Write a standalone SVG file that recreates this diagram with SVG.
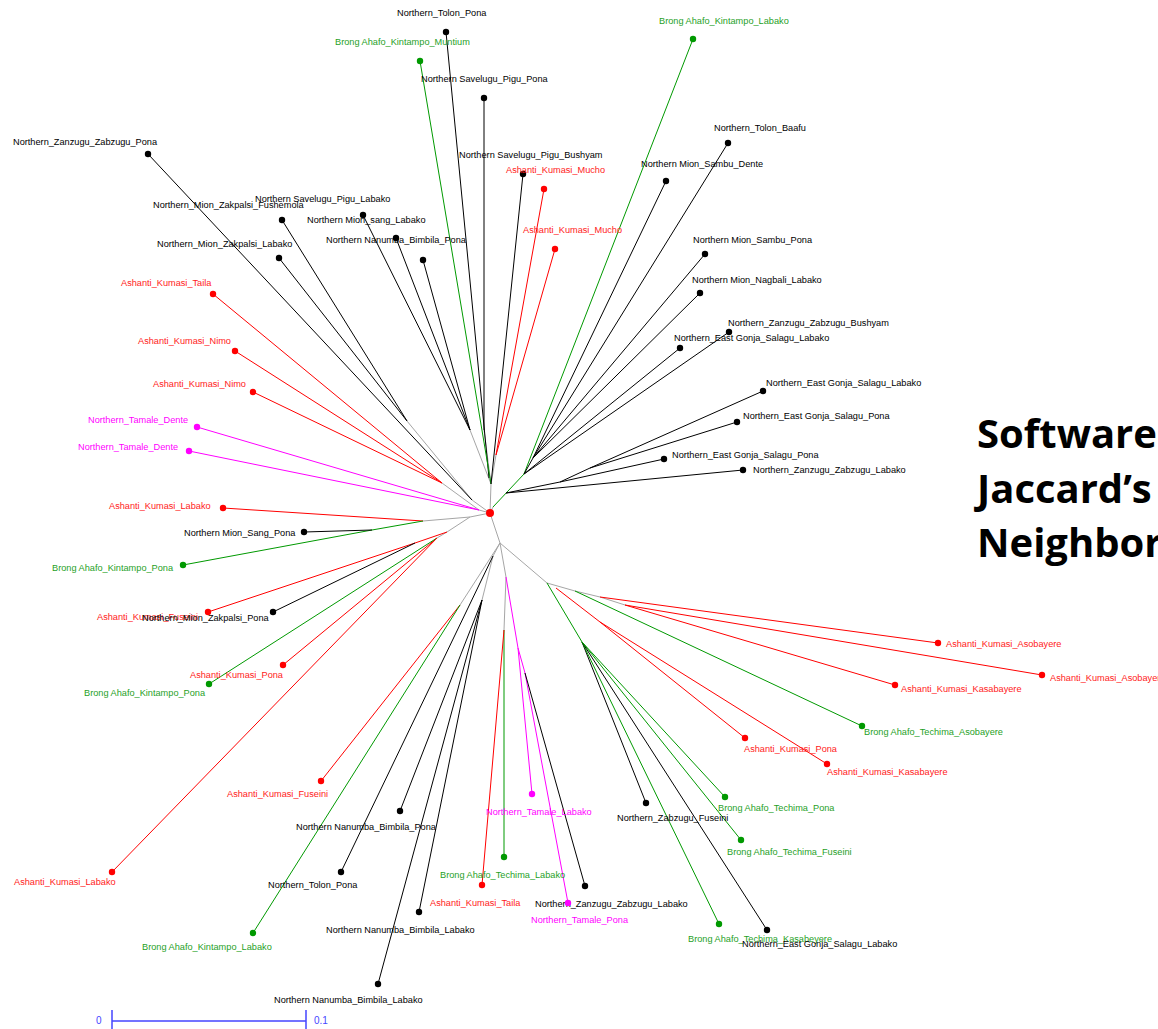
<svg xmlns="http://www.w3.org/2000/svg" width="1158" height="1029" viewBox="0 0 1158 1029">
<style>
text{font-family:"Liberation Sans",Arial,sans-serif;font-size:9.2px}
.k text{fill:#000}.r text{fill:#ff1a1a}.g text{fill:#1f9f1f}.m text{fill:#ff00ff}
.k circle{fill:#000}.r circle{fill:#ff0000}.g circle{fill:#009900}.m circle{fill:#ff00ff}
#connectors line,#connectors polyline{fill:none;stroke-width:1}
.ci{stroke:#a6a6a6;stroke-width:1.4}
.ck{stroke:#000}.cr{stroke:#ff0000}.cg{stroke:#009900}.cm{stroke:#ff00ff}
.title{font-family:"Open Sans","Liberation Sans",sans-serif;font-weight:700;font-size:40px;fill:#000}
.sb{stroke:#4646ff;stroke-width:1.5;fill:none}
.sbt{fill:#4646ff;font-size:10px}
</style>
<rect width="1158" height="1029" fill="#fff"/>
<g id="connectors">
<!-- internal gray branches -->
<line class="ci" x1="490" y1="513" x2="491" y2="484"/>
<line class="ci" x1="491" y1="484" x2="470" y2="430"/>
<line class="ci" x1="491" y1="484" x2="484" y2="430"/>
<line class="ci" x1="491" y1="484" x2="496" y2="455"/>
<line class="ci" x1="490" y1="513" x2="472" y2="500"/>
<line class="ci" x1="472" y1="500" x2="407" y2="421"/>
<line class="ci" x1="490" y1="513" x2="479" y2="510"/>
<line class="ci" x1="479" y1="510" x2="442" y2="483"/>
<line class="ci" x1="490" y1="513" x2="470" y2="517"/>
<line class="ci" x1="470" y1="517" x2="423" y2="521"/>
<line class="ci" x1="470" y1="517" x2="447" y2="532"/>
<line class="ci" x1="447" y1="532" x2="437" y2="538"/>
<line class="ci" x1="490" y1="513" x2="500" y2="543"/>
<line class="ci" x1="500" y1="543" x2="460" y2="605"/>
<line class="ci" x1="500" y1="543" x2="493" y2="556"/>
<line class="ci" x1="493" y1="556" x2="482" y2="600"/>
<polyline class="ci" points="500,543 506,577 504,630"/>
<line class="ci" x1="500" y1="543" x2="547" y2="583"/>
<polyline class="ci" points="547,583 575,591 600,597 625,605"/>
<line class="ci" x1="490" y1="513" x2="493" y2="507"/>
<!-- upper left -->
<line class="ck" x1="470" y1="430" x2="363" y2="215"/>
<line class="ck" x1="470" y1="430" x2="396" y2="238"/>
<line class="ck" x1="470" y1="430" x2="423" y2="260"/>
<line class="ck" x1="489" y1="478" x2="446" y2="32"/>
<line class="ck" x1="484" y1="430" x2="484" y2="98"/>
<line class="cg" x1="491" y1="484" x2="420" y2="61"/>
<line class="ck" x1="491" y1="484" x2="523" y2="174"/>
<line class="cr" x1="496" y1="455" x2="544" y2="189"/>
<line class="cr" x1="496" y1="455" x2="555" y2="249"/>
<line class="ck" x1="472" y1="500" x2="148" y2="154"/>
<line class="ck" x1="407" y1="421" x2="282" y2="220"/>
<line class="ck" x1="407" y1="421" x2="279" y2="258"/>
<line class="cr" x1="442" y1="483" x2="213" y2="294"/>
<line class="cr" x1="442" y1="483" x2="235" y2="351"/>
<line class="cr" x1="442" y1="483" x2="253" y2="392"/>
<line class="cm" x1="479" y1="510" x2="197" y2="427"/>
<line class="cm" x1="479" y1="510" x2="189" y2="451"/>
<!-- left -->
<line class="cr" x1="423" y1="521" x2="223" y2="508"/>
<line class="cg" x1="423" y1="521" x2="372" y2="530"/>
<line class="cg" x1="372" y1="530" x2="183" y2="565"/>
<line class="ck" x1="372" y1="530" x2="304" y2="532"/>
<line class="cr" x1="447" y1="532" x2="415" y2="543"/>
<line class="cr" x1="415" y1="543" x2="208" y2="612"/>
<line class="ck" x1="415" y1="543" x2="273" y2="612"/>
<line class="cr" x1="437" y1="538" x2="283" y2="665"/>
<line class="cg" x1="437" y1="538" x2="209" y2="684"/>
<line class="cr" x1="437" y1="538" x2="112" y2="872"/>
<!-- bottom left -->
<line class="cr" x1="460" y1="605" x2="321" y2="781"/>
<line class="cg" x1="460" y1="605" x2="253" y2="933"/>
<line class="ck" x1="493" y1="556" x2="341" y2="872"/>
<line class="ck" x1="482" y1="600" x2="400" y2="811"/>
<line class="ck" x1="482" y1="600" x2="419" y2="912"/>
<line class="ck" x1="482" y1="600" x2="378" y2="984"/>
<!-- bottom center -->
<line class="cg" x1="504" y1="630" x2="504" y2="857"/>
<line class="cr" x1="504" y1="630" x2="482" y2="885"/>
<polyline class="cm" points="506,577 518,648 532,794"/>
<polyline class="cm" points="518,648 525,673 568,903"/>
<line class="ck" x1="525" y1="673" x2="585" y2="886"/>
<!-- bottom right -->
<line class="cg" x1="547" y1="583" x2="582" y2="642"/>
<line class="ck" x1="582" y1="642" x2="646" y2="803"/>
<line class="cg" x1="582" y1="642" x2="719" y2="924"/>
<line class="ck" x1="582" y1="642" x2="767" y2="930"/>
<line class="cg" x1="582" y1="642" x2="725" y2="797"/>
<line class="cg" x1="582" y1="642" x2="741" y2="840"/>
<line class="cr" x1="556" y1="588" x2="600" y2="622"/>
<line class="cr" x1="600" y1="622" x2="745" y2="738"/>
<line class="cr" x1="600" y1="622" x2="827" y2="764"/>
<line class="cg" x1="575" y1="591" x2="862" y2="726"/>
<line class="cr" x1="600" y1="597" x2="938" y2="643"/>
<line class="cr" x1="625" y1="605" x2="1042" y2="675"/>
<line class="cr" x1="625" y1="605" x2="895" y2="685"/>
<!-- upper right -->
<line class="cg" x1="493" y1="507" x2="524" y2="474"/>
<line class="cg" x1="524" y1="474" x2="693" y2="39"/>
<line class="ck" x1="506" y1="493" x2="743" y2="470"/>
<line class="ck" x1="506" y1="493" x2="560" y2="482"/>
<line class="ck" x1="560" y1="482" x2="664" y2="459"/>
<line class="ck" x1="560" y1="482" x2="590" y2="468"/>
<line class="ck" x1="590" y1="468" x2="737" y2="422"/>
<line class="ck" x1="590" y1="468" x2="763" y2="391"/>
<line class="ck" x1="524" y1="474" x2="533" y2="458"/>
<line class="ck" x1="533" y1="458" x2="728" y2="143"/>
<line class="ck" x1="533" y1="458" x2="666" y2="181"/>
<line class="ck" x1="533" y1="458" x2="705" y2="254"/>
<line class="ck" x1="533" y1="458" x2="700" y2="293"/>
<line class="ck" x1="524" y1="474" x2="729" y2="332"/>
<line class="ck" x1="524" y1="474" x2="680" y2="348"/>
</g>
<circle cx="490" cy="513" r="4" fill="#ff0000"/>
<g id="n01" class="k"><circle cx="446" cy="32" r="3.2"/><text x="397" y="16">Northern_Tolon_Pona</text></g>
<g id="n02" class="g"><circle cx="420" cy="61" r="3.2"/><text x="335" y="45">Brong Ahafo_Kintampo_Muntium</text></g>
<g id="n03" class="k"><circle cx="484" cy="98" r="3.2"/><text x="421" y="82">Northern Savelugu_Pigu_Pona</text></g>
<g id="n04" class="g"><circle cx="693" cy="39" r="3.2"/><text x="659" y="24">Brong Ahafo_Kintampo_Labako</text></g>
<g id="n05" class="k"><circle cx="148" cy="154" r="3.2"/><text x="13" y="145">Northern_Zanzugu_Zabzugu_Pona</text></g>
<g id="n06" class="k"><circle cx="523" cy="174" r="3.2"/><text x="459" y="158">Northern Savelugu_Pigu_Bushyam</text></g>
<g id="n07" class="r"><circle cx="544" cy="189" r="3.2"/><text x="506" y="173">Ashanti_Kumasi_Mucho</text></g>
<g id="n08" class="r"><circle cx="555" cy="249" r="3.2"/><text x="523" y="233">Ashanti_Kumasi_Mucho</text></g>
<g id="n09" class="k"><circle cx="728" cy="143" r="3.2"/><text x="714" y="131">Northern_Tolon_Baafu</text></g>
<g id="n10" class="k"><circle cx="666" cy="181" r="3.2"/><text x="641" y="167">Northern Mion_Sambu_Dente</text></g>
<g id="n11" class="k"><circle cx="705" cy="254" r="3.2"/><text x="693" y="243">Northern Mion_Sambu_Pona</text></g>
<g id="n12" class="k"><circle cx="700" cy="293" r="3.2"/><text x="692" y="283">Northern Mion_Nagbali_Labako</text></g>
<g id="n13" class="k"><circle cx="729" cy="332" r="3.2"/><text x="728" y="326">Northern_Zanzugu_Zabzugu_Bushyam</text></g>
<g id="n14" class="k"><circle cx="680" cy="348" r="3.2"/><text x="674" y="341">Northern_East Gonja_Salagu_Labako</text></g>
<g id="n15" class="k"><circle cx="763" cy="391" r="3.2"/><text x="766" y="386">Northern_East Gonja_Salagu_Labako</text></g>
<g id="n16" class="k"><circle cx="737" cy="422" r="3.2"/><text x="743" y="419">Northern_East Gonja_Salagu_Pona</text></g>
<g id="n17" class="k"><circle cx="664" cy="459" r="3.2"/><text x="672" y="458">Northern_East Gonja_Salagu_Pona</text></g>
<g id="n18" class="k"><circle cx="743" cy="470" r="3.2"/><text x="753" y="473">Northern_Zanzugu_Zabzugu_Labako</text></g>
<g id="n19" class="k"><circle cx="282" cy="220" r="3.2"/><text x="153" y="208">Northern_Mion_Zakpalsi_Fushemola</text></g>
<g id="n20" class="k"><circle cx="363" cy="215" r="3.2"/><text x="255" y="202">Northern Savelugu_Pigu_Labako</text></g>
<g id="n21" class="k"><circle cx="396" cy="238" r="3.2"/><text x="307" y="223">Northern Mion_sang_Labako</text></g>
<g id="n22" class="k"><circle cx="423" cy="260" r="3.2"/><text x="326" y="243">Northern Nanumba_Bimbila_Pona</text></g>
<g id="n23" class="k"><circle cx="279" cy="258" r="3.2"/><text x="157" y="247">Northern_Mion_Zakpalsi_Labako</text></g>
<g id="n24" class="r"><circle cx="213" cy="294" r="3.2"/><text x="121" y="286">Ashanti_Kumasi_Taila</text></g>
<g id="n25" class="r"><circle cx="235" cy="351" r="3.2"/><text x="138" y="344">Ashanti_Kumasi_Nimo</text></g>
<g id="n26" class="r"><circle cx="253" cy="392" r="3.2"/><text x="153" y="387">Ashanti_Kumasi_Nimo</text></g>
<g id="n27" class="m"><circle cx="197" cy="427" r="3.2"/><text x="88" y="423">Northern_Tamale_Dente</text></g>
<g id="n28" class="m"><circle cx="189" cy="451" r="3.2"/><text x="78" y="450">Northern_Tamale_Dente</text></g>
<g id="n29" class="r"><circle cx="223" cy="508" r="3.2"/><text x="109" y="509">Ashanti_Kumasi_Labako</text></g>
<g id="n30" class="k"><circle cx="304" cy="532" r="3.2"/><text x="184" y="536">Northern Mion_Sang_Pona</text></g>
<g id="n31" class="g"><circle cx="183" cy="565" r="3.2"/><text x="52" y="571">Brong Ahafo_Kintampo_Pona</text></g>
<g id="n32" class="r"><circle cx="208" cy="612" r="3.2"/><text x="97" y="620">Ashanti_Kumasi_Fuseini</text></g>
<g id="n33" class="k"><circle cx="273" cy="612" r="3.2"/><text x="142" y="621">Northern_Mion_Zakpalsi_Pona</text></g>
<g id="n34" class="r"><circle cx="283" cy="665" r="3.2"/><text x="190" y="678">Ashanti_Kumasi_Pona</text></g>
<g id="n35" class="g"><circle cx="209" cy="684" r="3.2"/><text x="84" y="696">Brong Ahafo_Kintampo_Pona</text></g>
<g id="n36" class="r"><circle cx="112" cy="872" r="3.2"/><text x="14" y="885">Ashanti_Kumasi_Labako</text></g>
<g id="n37" class="r"><circle cx="321" cy="781" r="3.2"/><text x="227" y="797">Ashanti_Kumasi_Fuseini</text></g>
<g id="n38" class="g"><circle cx="253" cy="933" r="3.2"/><text x="142" y="950">Brong Ahafo_Kintampo_Labako</text></g>
<g id="n39" class="k"><circle cx="400" cy="811" r="3.2"/><text x="296" y="830">Northern Nanumba_Bimbila_Pona</text></g>
<g id="n40" class="k"><circle cx="341" cy="872" r="3.2"/><text x="268" y="888">Northern_Tolon_Pona</text></g>
<g id="n41" class="k"><circle cx="419" cy="912" r="3.2"/><text x="326" y="933">Northern Nanumba_Bimbila_Labako</text></g>
<g id="n42" class="k"><circle cx="378" cy="984" r="3.2"/><text x="274" y="1003">Northern Nanumba_Bimbila_Labako</text></g>
<g id="n43" class="m"><circle cx="532" cy="794" r="3.2"/><text x="486" y="815">Northern_Tamale_Labako</text></g>
<g id="n44" class="g"><circle cx="504" cy="857" r="3.2"/><text x="440" y="878">Brong Ahafo_Techima_Labako</text></g>
<g id="n45" class="r"><circle cx="482" cy="885" r="3.2"/><text x="430" y="906">Ashanti_Kumasi_Taila</text></g>
<g id="n46" class="k"><circle cx="585" cy="886" r="3.2"/><text x="535" y="907">Northern_Zanzugu_Zabzugu_Labako</text></g>
<g id="n47" class="m"><circle cx="568" cy="903" r="3.2"/><text x="531" y="923">Northern_Tamale_Pona</text></g>
<g id="n48" class="k"><circle cx="646" cy="803" r="3.2"/><text x="617" y="821">Northern_Zabzugu_Fuseini</text></g>
<g id="n49" class="g"><circle cx="719" cy="924" r="3.2"/><text x="688" y="942">Brong Ahafo_Techima_Kasabeyere</text></g>
<g id="n50" class="k"><circle cx="767" cy="930" r="3.2"/><text x="742" y="947">Northern_East Gonja_Salagu_Labako</text></g>
<g id="n51" class="g"><circle cx="725" cy="797" r="3.2"/><text x="718" y="811">Brong Ahafo_Techima_Pona</text></g>
<g id="n52" class="g"><circle cx="741" cy="840" r="3.2"/><text x="727" y="855">Brong Ahafo_Techima_Fuseini</text></g>
<g id="n53" class="r"><circle cx="745" cy="738" r="3.2"/><text x="744" y="752">Ashanti_Kumasi_Pona</text></g>
<g id="n54" class="r"><circle cx="827" cy="764" r="3.2"/><text x="827" y="775">Ashanti_Kumasi_Kasabayere</text></g>
<g id="n55" class="g"><circle cx="862" cy="726" r="3.2"/><text x="864" y="735">Brong Ahafo_Techima_Asobayere</text></g>
<g id="n56" class="r"><circle cx="895" cy="685" r="3.2"/><text x="901" y="692">Ashanti_Kumasi_Kasabayere</text></g>
<g id="n57" class="r"><circle cx="938" cy="643" r="3.2"/><text x="946" y="647">Ashanti_Kumasi_Asobayere</text></g>
<g id="n58" class="r"><circle cx="1042" cy="675" r="3.2"/><text x="1050" y="681">Ashanti_Kumasi_Asobayere</text></g>
<g id="title">
<text class="title" x="977" y="448">Software</text>
<text class="title" x="977" y="503">Jaccard’s</text>
<text class="title" x="977" y="557">Neighbor</text>
</g>
<g id="scalebar">
<path class="sb" d="M112,1010V1029M112,1021H306M306,1010V1029"/>
<text class="sbt" x="96" y="1024">0</text>
<text class="sbt" x="314" y="1024">0.1</text>
</g>
</svg>
